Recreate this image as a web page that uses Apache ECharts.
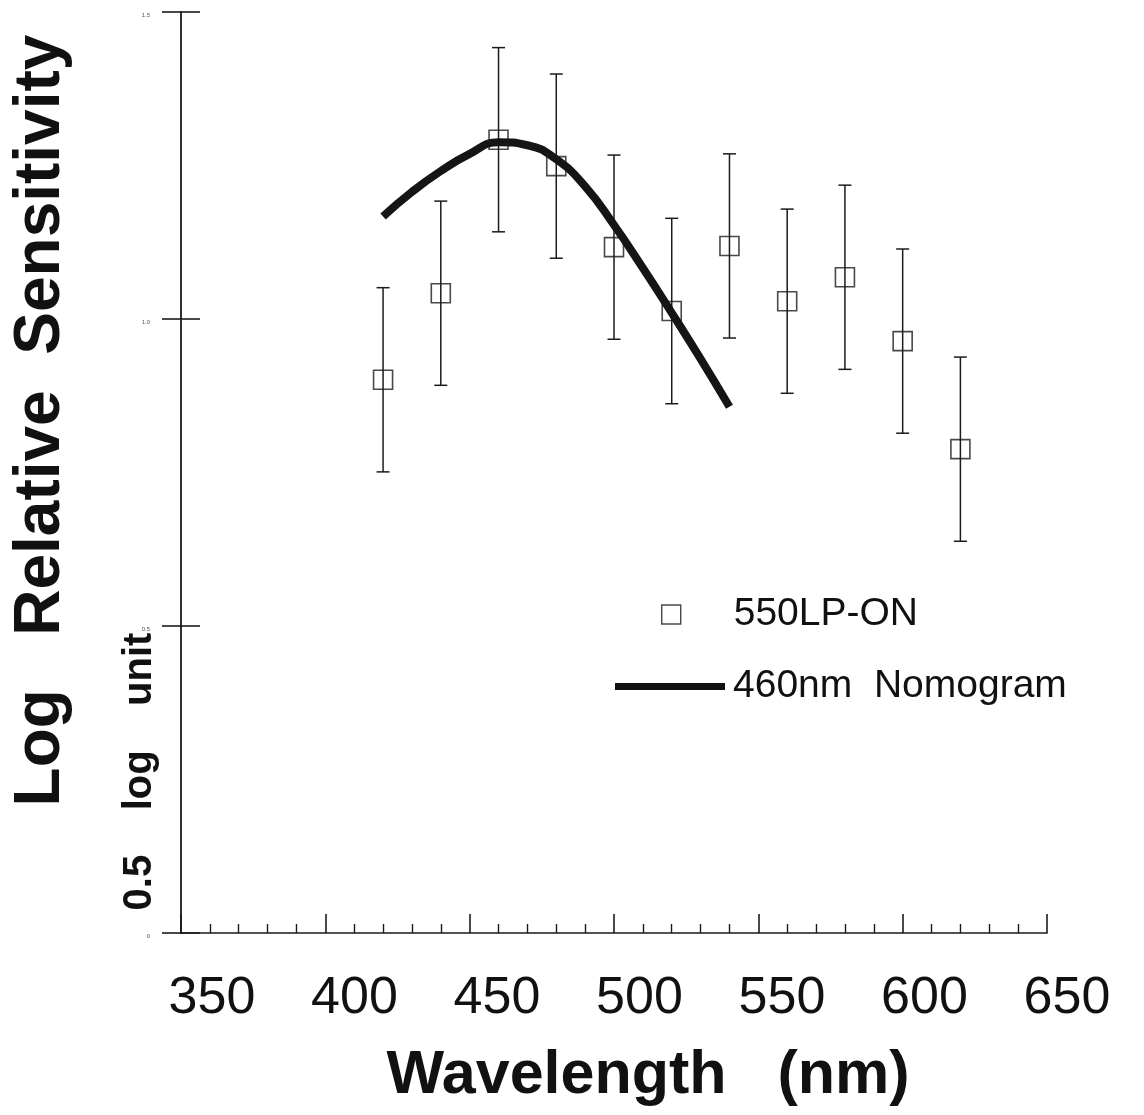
<!DOCTYPE html>
<html>
<head>
<meta charset="utf-8">
<script src="https://cdn.jsdelivr.net/npm/echarts@6/dist/echarts.min.js"></script>
<style>
  html, body { margin: 0; padding: 0; background: #ffffff; }
  #chart { width: 1144px; height: 1115px; }
  #err { position: absolute; left: 300px; top: 20px; font: 14px monospace; color: red; }
</style>
</head>
<body>
<div id="chart"></div>
<div id="err"></div>
<script>
// ---- data ----
const wavelengths = [420, 440, 460, 480, 500, 520, 540, 560, 580, 600, 620];
const sensitivity = [0.901, 1.042, 1.292, 1.249, 1.117, 1.013, 1.119, 1.029, 1.068, 0.964, 0.788];
const errorHalf   = [0.150, 0.150, 0.150, 0.150, 0.150, 0.151, 0.150, 0.150, 0.150, 0.150, 0.150];

const nomogramWl  = [420, 430, 440, 450, 460, 470, 480, 490, 500, 510, 520, 530, 540];
const nomogramVal = [1.167, 1.207, 1.241, 1.269, 1.288, 1.283, 1.260, 1.216, 1.153, 1.083, 1.010, 0.935, 0.857];

const xTickLabels = ['350', '400', '450', '500', '550', '600', '650'];
const yTickLabels = ['0', '0.5', '1.0', '1.5'];

const seriesName = '550LP-ON';
const curveName = '460nm  Nomogram';
const xTitle = 'Wavelength   (nm)';
const yTitle = 'Log   Relative  Sensitivity';
const unitTitle = '0.5    log    unit';

// ---- build chart ----
const FONT = "'Liberation Sans', Arial, Helvetica, sans-serif";
const INK = '#1b1b1b';

const points = wavelengths.map((w, i) => [w, sensitivity[i]]);
const bars = wavelengths.map((w, i) => [w, sensitivity[i] - errorHalf[i], sensitivity[i] + errorHalf[i]]);
const curve = nomogramWl.map((w, i) => [w, nomogramVal[i]]);

const chart = echarts.init(document.getElementById('chart'), null, { renderer: 'canvas' });

const option = {
  backgroundColor: '#ffffff',
  animation: false,
  textStyle: { fontFamily: FONT },
  grid: [
    { left: 181, width: 866, top: 12, height: 921, containLabel: false, outerBoundsMode: 'none' },
    { left: 212, width: 855, top: 12, height: 921, containLabel: false, outerBoundsMode: 'none' }
  ],
  xAxis: [
    {
      type: 'value', gridIndex: 0, min: 350, max: 650, interval: 50,
      axisLine: { show: true, lineStyle: { color: INK, width: 1.6 } },
      axisTick: { show: true, inside: true, length: 19, lineStyle: { color: INK, width: 1.6 } },
      minorTick: { show: true, splitNumber: 5, length: 9, lineStyle: { color: INK, width: 1.4 } },
      axisLabel: { show: false },
      splitLine: { show: false },
      name: xTitle, nameLocation: 'middle', nameGap: 113,
      nameTextStyle: { fontFamily: FONT, fontSize: 61, fontWeight: 'bold', color: '#111', padding: [0, 0, 0, 68] }
    },
    {
      type: 'value', gridIndex: 1, min: 350, max: 650, interval: 50,
      axisLine: { show: false }, axisTick: { show: false }, splitLine: { show: false },
      axisLabel: {
        show: true, margin: 40, fontSize: 52, color: '#111', fontFamily: FONT,
        formatter: (v) => xTickLabels[Math.round((v - 350) / 50)] || ''
      }
    }
  ],
  yAxis: [
    {
      type: 'value', gridIndex: 0, position: 'left', offset: 0, min: 0, max: 1.5, interval: 0.5,
      axisLine: { show: true, lineStyle: { color: INK, width: 1.8 } },
      axisTick: { show: true, inside: false, length: 19, lineStyle: { color: INK, width: 1.6 } },
      axisLabel: {
        show: true, margin: 31, fontSize: 6, color: '#555', verticalAlign: 'top',
        formatter: (v) => yTickLabels[Math.round(v / 0.5)] || ''
      },
      splitLine: { show: false },
      name: yTitle, nameLocation: 'middle', nameRotate: 90, nameGap: 108,
      nameTextStyle: { fontFamily: FONT, fontSize: 64, fontWeight: 'bold', color: '#111', padding: [0, 0, 0, 104] }
    },
    {
      type: 'value', gridIndex: 0, position: 'left', offset: 0, min: 0, max: 1.5, interval: 0.5,
      axisLine: { show: false },
      axisTick: { show: true, inside: true, length: 19, lineStyle: { color: INK, width: 1.6 } },
      axisLabel: { show: false },
      splitLine: { show: false },
      name: unitTitle, nameLocation: 'middle', nameRotate: 90, nameGap: 21,
      nameTextStyle: { fontFamily: FONT, fontSize: 40, fontWeight: 'bold', color: '#111', padding: [0, 598, 0, 0] }
    },
    {
      type: 'value', gridIndex: 1, min: 0, max: 1.5, show: false
    }
  ],
  legend: [
    {
      data: [seriesName], left: 661, top: 595, padding: 0,
      itemWidth: 19, itemHeight: 19, icon: 'rect',
      itemStyle: { color: 'rgba(255,255,255,0)', borderColor: INK, borderWidth: 1.4 },
      textStyle: { fontFamily: FONT, fontSize: 39, color: '#111', padding: [0, 0, 0, 48] }
    },
    {
      data: [curveName], left: 615, top: 667, padding: 0,
      itemWidth: 110, itemHeight: 7, icon: 'rect',
      itemStyle: { color: '#111' },
      textStyle: { fontFamily: FONT, fontSize: 39, color: '#111', padding: [0, 0, 0, 3] }
    }
  ],
  series: [
    {
      type: 'custom', xAxisIndex: 0, yAxisIndex: 0, z: 2,
      data: bars,
      renderItem: function (params, api) {
        const x = api.value(0);
        const lo = api.coord([x, api.value(1)]);
        const hi = api.coord([x, api.value(2)]);
        const hw = 6.5;
        const style = { stroke: INK, lineWidth: 1.5 };
        return {
          type: 'group',
          children: [
            { type: 'line', shape: { x1: lo[0], y1: lo[1], x2: hi[0], y2: hi[1] }, style: style },
            { type: 'line', shape: { x1: hi[0] - hw, y1: hi[1], x2: hi[0] + hw, y2: hi[1] }, style: style },
            { type: 'line', shape: { x1: lo[0] - hw, y1: lo[1], x2: lo[0] + hw, y2: lo[1] }, style: style }
          ]
        };
      }
    },
    {
      name: seriesName, type: 'scatter', xAxisIndex: 0, yAxisIndex: 0, z: 3,
      symbol: 'rect', symbolSize: 19,
      itemStyle: { color: 'rgba(255,255,255,0)', borderColor: INK, borderWidth: 1.6 },
      data: points
    },
    {
      name: curveName, type: 'line', xAxisIndex: 0, yAxisIndex: 0, z: 4,
      smooth: 0.5, symbol: 'none',
      lineStyle: { color: '#151515', width: 8 },
      itemStyle: { color: '#111' },
      data: curve
    }
  ]
};

try {
  chart.setOption(option);
} catch (e) {
  document.getElementById('err').textContent = 'ERR: ' + e.message;
}
</script>
</body>
</html>
